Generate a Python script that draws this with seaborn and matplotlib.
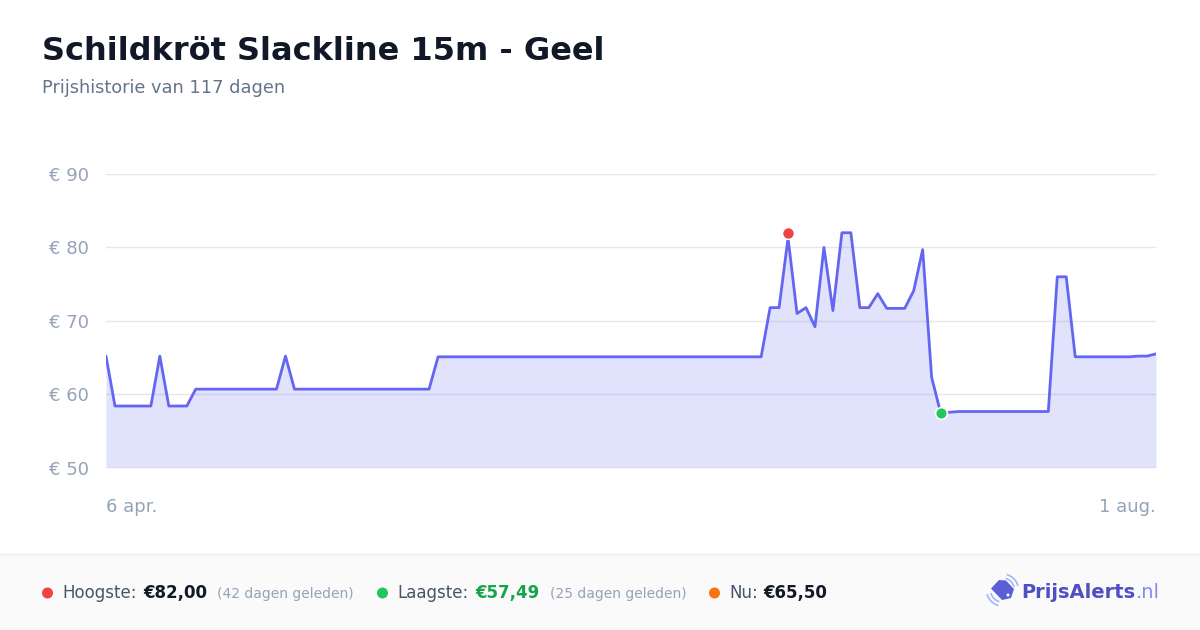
import numpy as np
import pandas as pd
import matplotlib
matplotlib.use("Agg")
import matplotlib.pyplot as plt
import seaborn as sns
from matplotlib.patches import Rectangle, Polygon, Circle, Arc

# ---- data ----
title = "Schildkröt Slackline 15m - Geel"
subtitle = "Prijshistorie van 117 dagen"
prices = ([65.2] + [58.4] * 5 + [65.2] + [58.4] * 3 + [60.7] * 10 + [65.2]
          + [60.7] * 16 + [65.1] * 37
          + [71.8, 71.8, 81.3, 71.0, 71.8, 69.2, 80.0, 71.4, 82.0, 82.0,
             71.8, 71.8, 73.7, 71.7, 71.7, 71.7, 74.1, 79.7, 62.3, 57.49,
             57.55, 57.65]
          + [57.65] * 10
          + [76.0, 76.0, 65.1] + [65.1] * 6 + [65.2, 65.2, 65.5])
days = list(range(len(prices)))
high_day, high_val = 76, 82.00
low_day, low_val = 93, 57.49
y_ticks = [50, 60, 70, 80, 90]
y_labels = ["€ 50", "€ 60", "€ 70", "€ 80", "€ 90"]
x_ticks = [0, 117]
x_labels = ["6 apr.", "1 aug."]
stats_high = "€82,00"
stats_high_ago = "(42 dagen geleden)"
stats_low = "€57,49"
stats_low_ago = "(25 dagen geleden)"
stats_now = "€65,50"

df = pd.DataFrame({"day": days, "price": prices})

sns.set_theme(style="white")
plt.rcParams["font.family"] = ["DejaVu Sans"]

W, H = 1200, 630
fig = plt.figure(figsize=(W / 100, H / 100), dpi=100)
fig.patch.set_facecolor("white")

# overlay in pixel coordinates for footer / decorations
ov = fig.add_axes([0, 0, 1, 1], zorder=0)
ov.set_xlim(0, W)
ov.set_ylim(H, 0)
ov.axis("off")
ov.add_patch(Rectangle((0, 554), W, H - 554, facecolor="#fafafa", edgecolor="none"))
ov.plot([0, W], [554, 554], color="#eeeeee", linewidth=1)

ax = fig.add_axes([106 / W, 1 - 467.7 / H, (1156 - 106) / W, (467.7 - 174) / H], zorder=2)
ax.set_facecolor("none")

LINE = "#6366f1"
ax.fill_between(df["day"], df["price"], 50, color=LINE, alpha=0.19, linewidth=0, zorder=1)
sns.lineplot(data=df, x="day", y="price", ax=ax, color=LINE, linewidth=2.0, zorder=3)
ax.axhline(50, color="#dcdde6", linewidth=1.2, zorder=2)

ax.plot([high_day], [high_val], "o", color="#ef4444", markersize=8.5,
        markeredgecolor="white", markeredgewidth=1.0, zorder=5, clip_on=False)
ax.plot([low_day], [low_val], "o", color="#22c55e", markersize=8.5,
        markeredgecolor="white", markeredgewidth=1.2, zorder=5, clip_on=False)

ax.set_xlim(0, 117)
ax.set_ylim(50, 90)
ax.set_yticks(y_ticks)
ax.set_yticklabels(y_labels)
ax.set_xticks(x_ticks)
ax.set_xticklabels(x_labels)
for lab, ha in zip(ax.get_xticklabels(), ["left", "right"]):
    lab.set_ha(ha)
ax.tick_params(axis="y", length=0, pad=12, labelsize=13, labelcolor="#94a3b8")
ax.tick_params(axis="x", length=0, pad=22, labelsize=13, labelcolor="#94a3b8")
ax.grid(axis="y", color="#e5e7eb", linewidth=1, zorder=0)
ax.grid(axis="x", visible=False)
for s in ax.spines.values():
    s.set_visible(False)
ax.set_xlabel("")
ax.set_ylabel("")

# ---- titles ----
fig.text(42 / W, 1 - 60 / H, title, fontsize=23, fontweight="bold", color="#111827",
         ha="left", va="baseline")
fig.text(42 / W, 1 - 93 / H, subtitle, fontsize=12.8, color="#64748b",
         ha="left", va="baseline")

# ---- footer ----
fy = 598


def dot(x, color):
    ov.add_patch(Circle((x, 593), 5.5, facecolor=color, edgecolor="none"))


def txt(x, s, **kw):
    ov.text(x, fy, s, ha="left", va="baseline", **kw)


dot(47.5, "#ef4444")
txt(62, "Hoogste:", fontsize=12, color="#475569")
txt(143.5, stats_high, fontsize=12, fontweight="bold", color="#111827")
txt(217, stats_high_ago, fontsize=10, color="#94a3b8")
dot(382.5, "#22c55e")
txt(397, "Laagste:", fontsize=12, color="#475569")
txt(475, stats_low, fontsize=12, fontweight="bold", color="#16a34a")
txt(550, stats_low_ago, fontsize=10, color="#94a3b8")
dot(714.5, "#f97316")
txt(729, "Nu:", fontsize=12, color="#475569")
txt(763, stats_now, fontsize=12, fontweight="bold", color="#111827")

# logo: tilted price tag with signal arcs
ov.add_patch(Polygon([(991, 588.5), (999, 580), (1006, 580.5), (1014, 589),
                      (1011, 598), (1002, 600)],
                     closed=True, facecolor="#5b5fd6", edgecolor="none"))
ov.add_patch(Circle((1008, 595), 1.5, facecolor="white", edgecolor="none"))
for r in (12, 16):
    ov.add_patch(Arc((1002.5, 590), 2 * r, 2 * r, theta1=-75, theta2=-15,
                     color="#a5b4fc", linewidth=1.2))
    ov.add_patch(Arc((1002.5, 590), 2 * r, 2 * r, theta1=105, theta2=165,
                     color="#a5b4fc", linewidth=1.2))
txt(1021, "PrijsAlerts", fontsize=14, fontweight="bold", color="#4f4fc4")
txt(1136, ".nl", fontsize=14, color="#818cf8")

fig.savefig("out.png", dpi=100)
